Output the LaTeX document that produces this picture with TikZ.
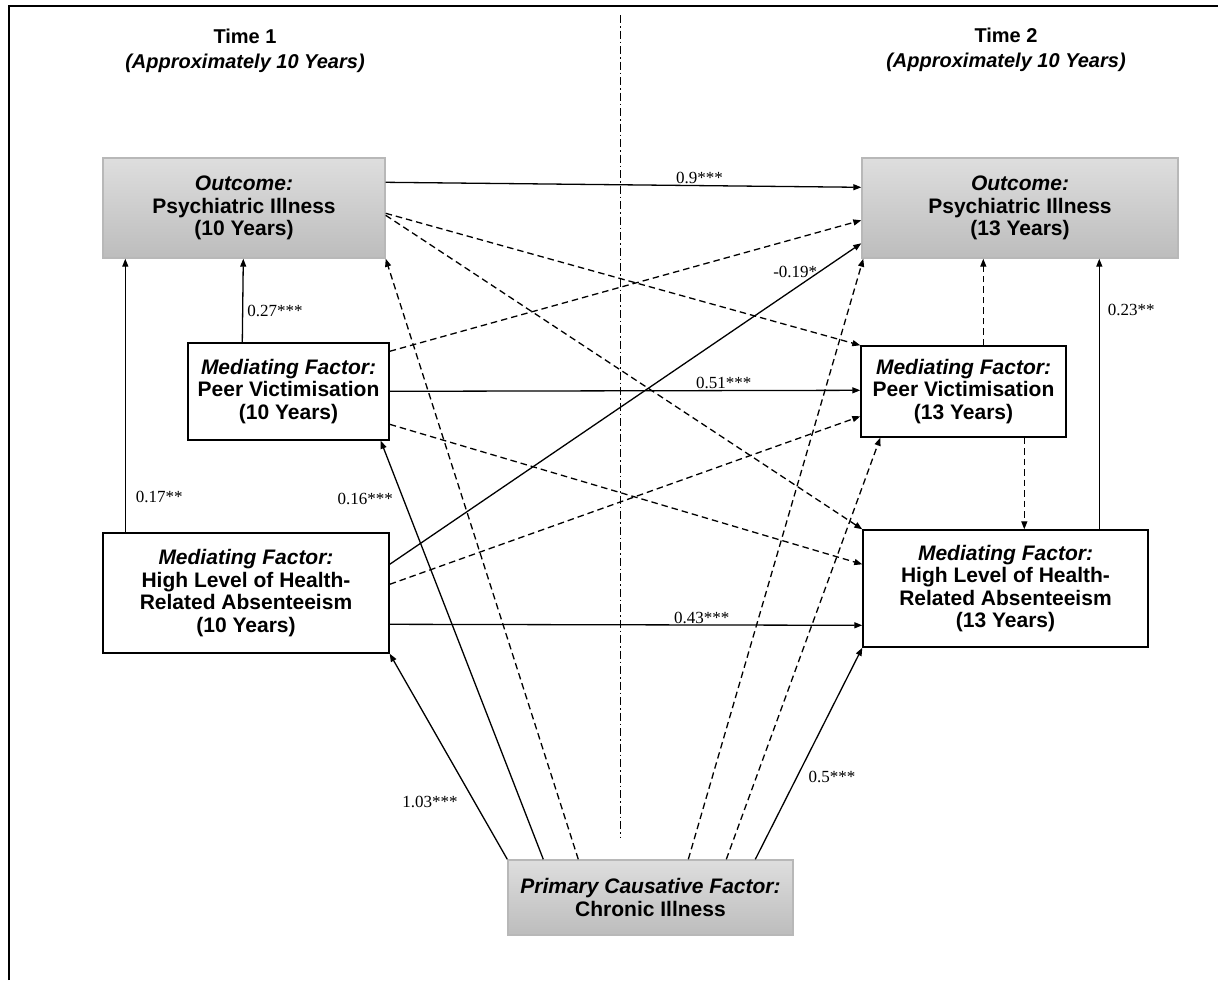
\documentclass[tikz,border=0pt]{standalone}
\usepackage{fontspec}
\setmainfont{Liberation Serif}
\setsansfont{Liberation Sans}
\usepackage{tikz}
\usetikzlibrary{positioning,arrows.meta}

\begin{document}
\begin{tikzpicture}[x=1pt, y=-1pt, every node/.style={font=\fontsize{17}{20}\selectfont},
  box/.style={rectangle, draw, line width=1.4pt, inner sep=0pt, align=center,
    font=\sffamily\bfseries\fontsize{21}{22.5}\selectfont},
  shaded/.style={box, draw=black!28, top color=black!13, bottom color=black!26},
  eff/.style={-{Triangle[length=8pt,width=6pt]}, line width=1.3pt},
  ns/.style={eff, dash pattern=on 6.5pt off 4pt},
  lbl/.style={inner sep=1pt}]
  \useasboundingbox (0,0) rectangle (1218,980);
  % Frame and time divider
  \draw[line width=2pt] (9,980) -- (9,6) -- (1218,6);
  \draw[line width=1pt, dash pattern=on 8pt off 3pt on 1.5pt off 3pt] (620,15) -- (620,838);
  % Time headings
  \node[align=center, font=\sffamily\bfseries\fontsize{20}{24.5}\selectfont] (time1) at (245,51) {Time 1\\\textit{(Approximately 10 Years)}};
  \node[align=center, font=\sffamily\bfseries\fontsize{20}{24.5}\selectfont] (time2) at (1006,50) {Time 2\\\textit{(Approximately 10 Years)}};
  % Outcome blocks
  \node[shaded, minimum width=282pt, minimum height=100pt] (out1) at (244,208) {\textit{Outcome:}\\Psychiatric Illness\\(10 Years)};
  \node[shaded, minimum width=316pt, minimum height=100pt] (out2) at (1020,208) {\textit{Outcome:}\\Psychiatric Illness\\(13 Years)};
  % Mediating factors
  \node[box, minimum width=201pt, minimum height=97pt] (peer1) at (288.5,391.5) {\textit{Mediating Factor:}\\Peer Victimisation\\(10 Years)};
  \node[box, minimum width=205pt, minimum height=91pt] (peer2) at (963.5,391.5) {\textit{Mediating Factor:}\\Peer Victimisation\\(13 Years)};
  \node[box, minimum width=286pt, minimum height=120pt] (abs1) at (246,593) {\textit{Mediating Factor:}\\High Level of Health-\\Related Absenteeism\\(10 Years)};
  \node[box, minimum width=285pt, minimum height=117pt] (abs2) at (1005.5,588.5) {\textit{Mediating Factor:}\\High Level of Health-\\Related Absenteeism\\(13 Years)};
  % Primary causative factor
  \node[shaded, minimum width=285pt, minimum height=75pt] (ill) at (650.5,897.5) {\textit{Primary Causative Factor:}\\Chronic Illness};
  % Stability paths (Time 1 to Time 2)
  \draw[eff] ([yshift=-25pt]out1.north east) -- ([yshift=-30pt]out2.north west) node[lbl, above, pos=.66] {0.9***};
  \draw[eff] ([yshift=-49pt]peer1.north east) -- ([yshift=-45pt]peer2.north west) node[lbl, above, pos=.71] {0.51***};
  \draw[eff] ([yshift=-92pt]abs1.north east) -- ([yshift=-96pt]abs2.north west) node[lbl, above, pos=.66] {0.43***};
  % Within-time paths
  \draw[eff] ([xshift=23pt]abs1.north west) -- ([xshift=23pt]out1.south west) node[lbl, right=9pt, pos=.13] {0.17**};
  \draw[eff] ([xshift=55pt]peer1.north west) -- ([xshift=141pt]out1.south west) node[lbl, right=3pt, pos=.38] {0.27***};
  \draw[eff] ([xshift=237pt]abs2.north west) -- ([xshift=238pt]out2.south west) node[lbl, right=7pt, pos=.81] {0.23**};
  \draw[ns] ([xshift=123pt]peer2.north west) -- ([xshift=122pt]out2.south west);
  \draw[ns] ([xshift=164pt]peer2.south west) -- ([xshift=162pt]abs2.north west);
  % Cross-lagged paths
  \draw[ns] ([yshift=-56pt]out1.north east) -- (peer2.north west);
  \draw[ns] ([yshift=-58pt]out1.north east) -- (abs2.north west);
  \draw[ns] ([yshift=-9pt]peer1.north east) -- ([yshift=-63pt]out2.north west);
  \draw[ns] ([yshift=-82pt]peer1.north east) -- ([yshift=-35pt]abs2.north west);
  \draw[eff] ([yshift=-32pt]abs1.north east) -- ([yshift=-86pt]out2.north west) node[lbl, above=9pt, pos=.86] {-0.19*};
  \draw[ns] ([yshift=-52pt]abs1.north east) -- ([yshift=-71pt]peer2.north west);
  % Paths from chronic illness
  \draw[eff] (ill.north west) -- (abs1.south east) node[lbl, left=15pt, pos=.28] {1.03***};
  \draw[eff] ([xshift=36pt]ill.north west) -- ([xshift=-9pt]peer1.south east) node[lbl, left=9pt, pos=.86] {0.16***};
  \draw[ns] ([xshift=71pt]ill.north west) -- (out1.south east);
  \draw[ns] ([xshift=181pt]ill.north west) -- ([xshift=2pt]out2.south west);
  \draw[ns] ([xshift=219pt]ill.north west) -- ([xshift=20pt]peer2.south west);
  \draw[eff] ([xshift=248pt]ill.north west) -- (abs2.south west) node[lbl, right=10pt, pos=.39] {0.5***};
\end{tikzpicture}
\end{document}
